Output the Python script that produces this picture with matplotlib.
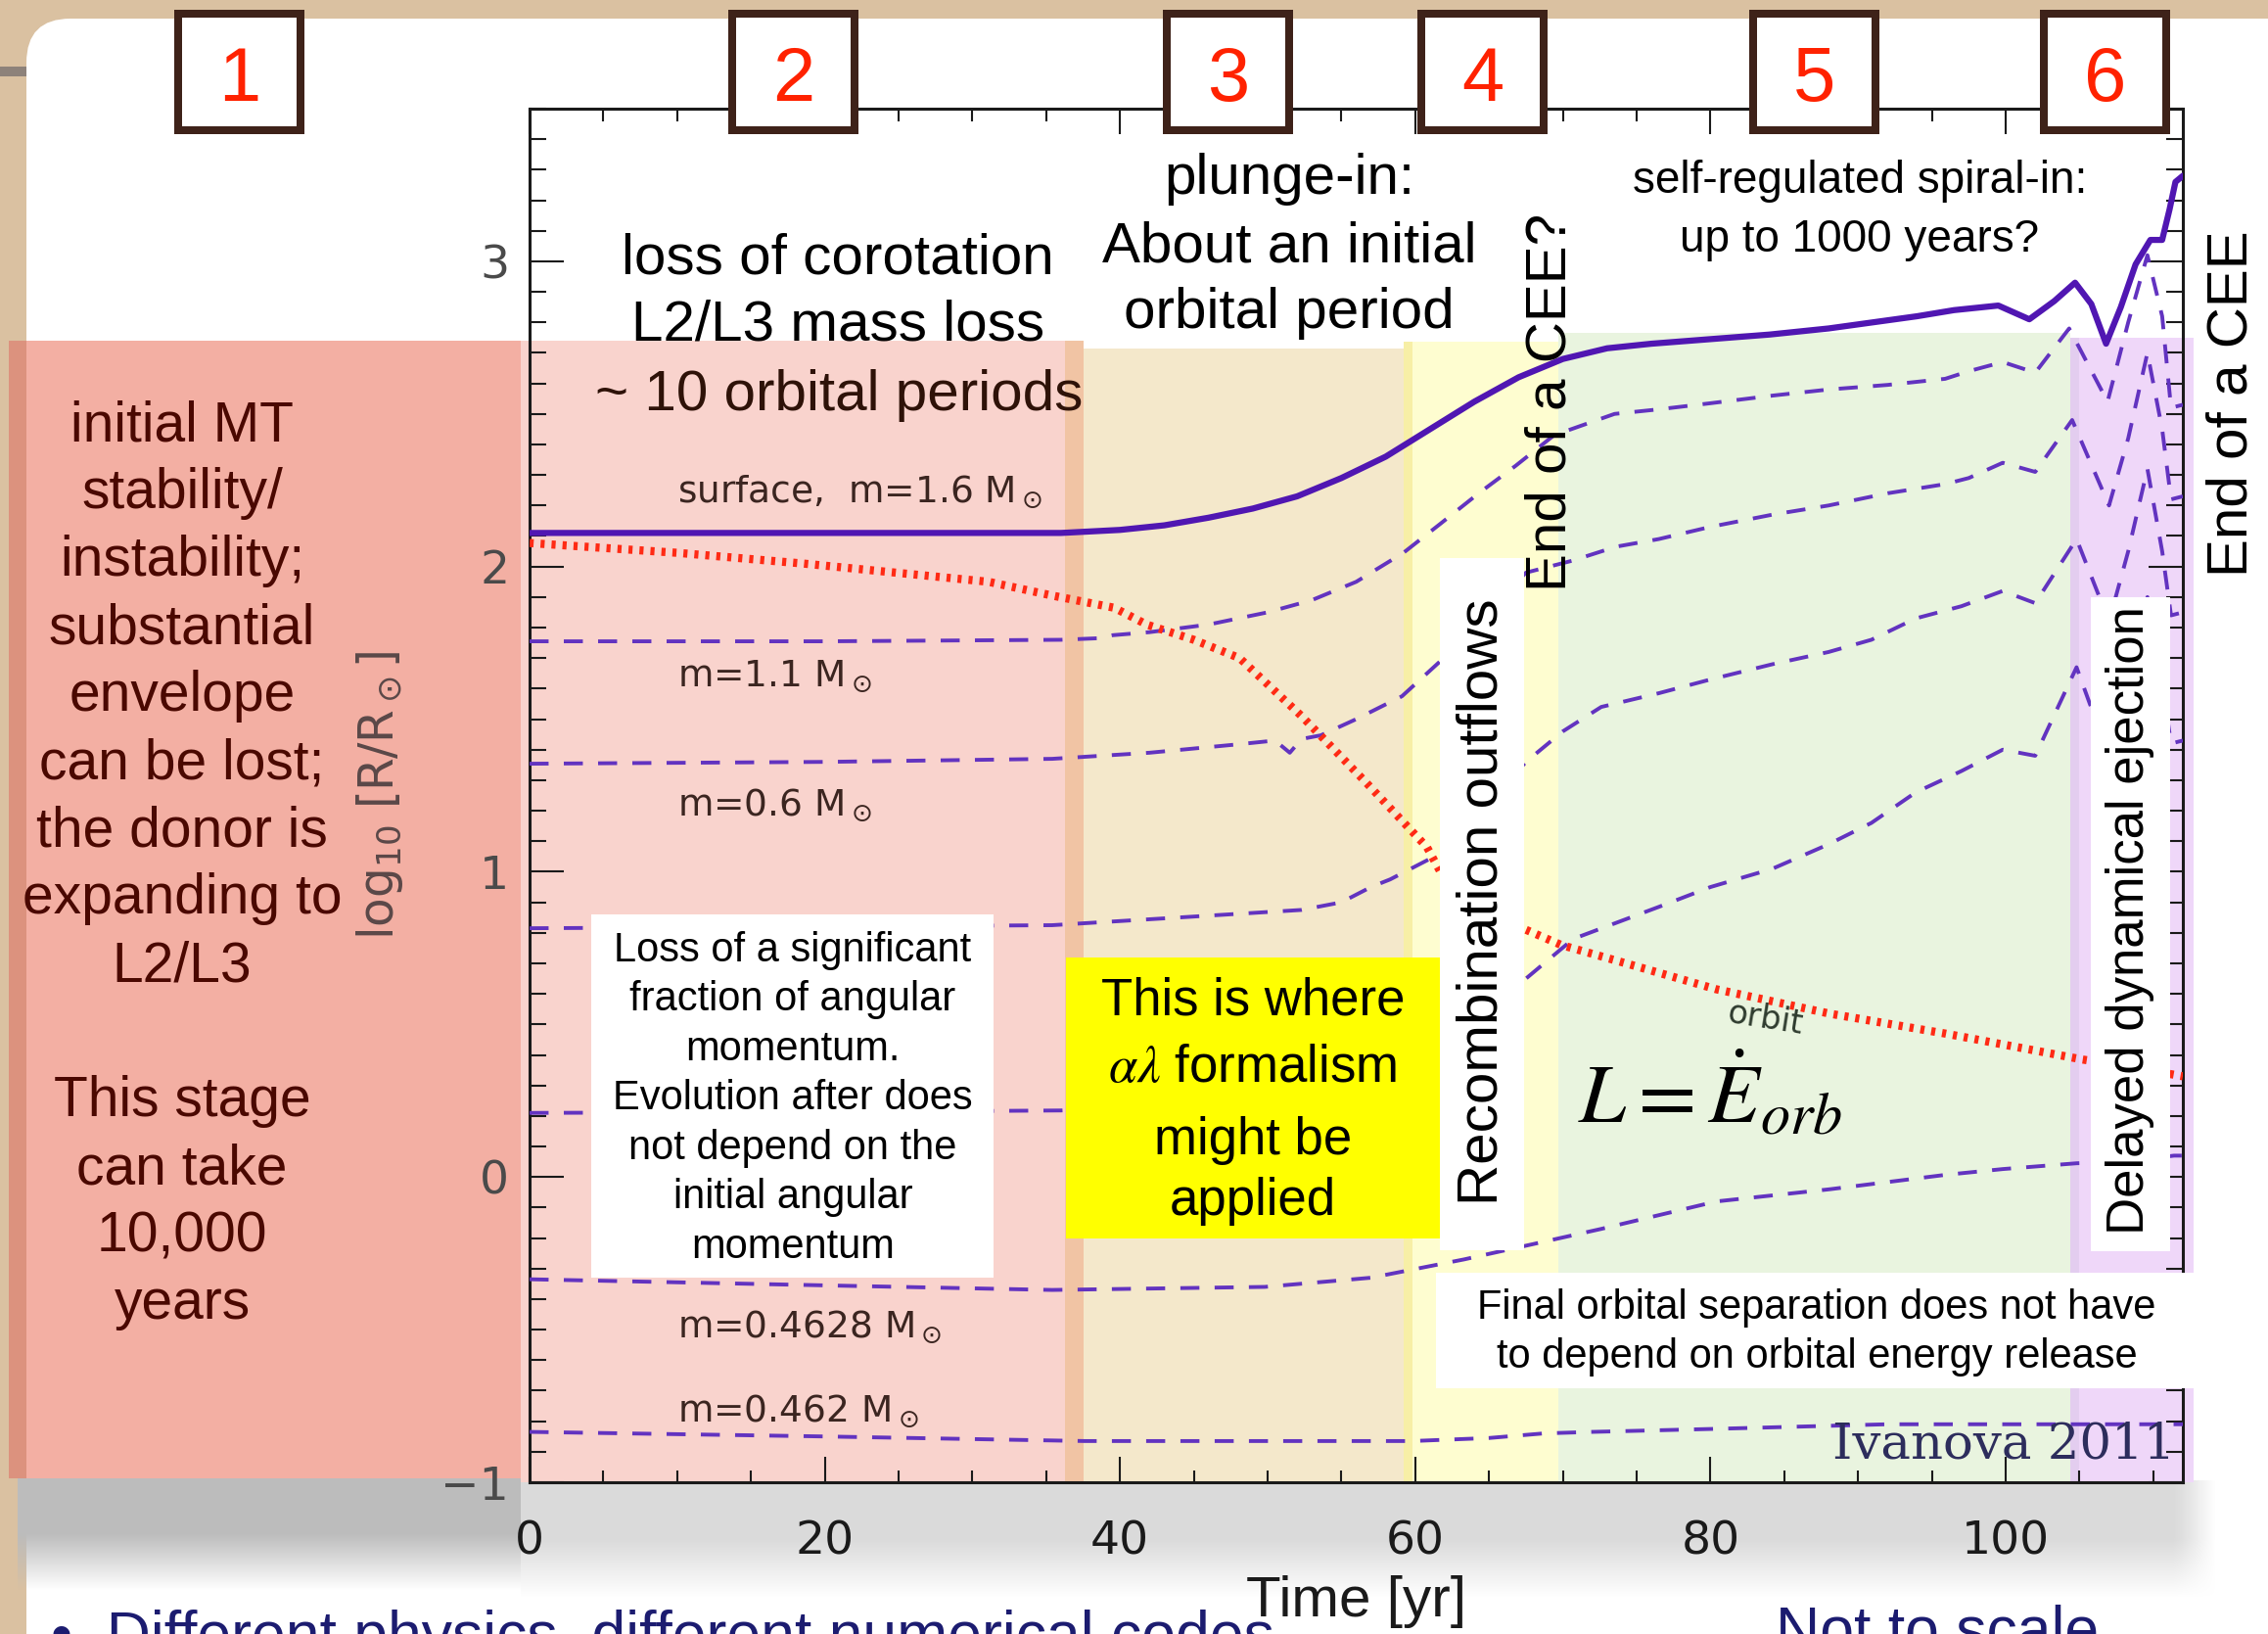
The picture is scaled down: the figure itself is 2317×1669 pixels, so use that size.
import numpy as np
import matplotlib
matplotlib.use("Agg")
import matplotlib.pyplot as plt
from matplotlib.patches import Rectangle, FancyBboxPatch

plt.rcParams['font.family'] = ['Liberation Sans', 'DejaVu Sans']
plt.rcParams['mathtext.fontset'] = 'dejavusans'

# ------------------------------------------------------------------ data
surface_t = [0, 10, 20, 30, 36, 40, 43, 46, 49, 52, 55, 58, 61, 64, 67, 70, 73, 76, 80, 84,
             88, 91, 94, 96.5, 99.5, 101.6, 103.3, 104.7, 105.8, 106.8, 107.8, 108.8, 109.8,
             110.6, 111.1, 111.5, 112]
surface_r = [2.11, 2.11, 2.11, 2.11, 2.11, 2.12, 2.135, 2.16, 2.19, 2.23, 2.29, 2.36, 2.45,
             2.54, 2.62, 2.68, 2.715, 2.73, 2.745, 2.76, 2.78, 2.80, 2.82, 2.84, 2.855, 2.81,
             2.87, 2.93, 2.86, 2.73, 2.85, 2.99, 3.07, 3.07, 3.17, 3.26, 3.28]

m11_t = [0, 20, 36, 38.5, 39.5, 42, 46, 50, 53, 56, 59.2, 61.7, 64.3, 66.8, 69.4, 73.5, 76.5,
         80, 84.2, 88, 92, 95.9, 97.5, 99.8, 102, 104.3, 106.9, 108.3, 109.6, 110.6, 111.2, 112]
m11_r = [1.755, 1.755, 1.76, 1.765, 1.775, 1.785, 1.81, 1.85, 1.89, 1.95, 2.045, 2.14, 2.24,
         2.33, 2.43, 2.50, 2.515, 2.535, 2.56, 2.58, 2.595, 2.615, 2.64, 2.67, 2.635, 2.78,
         2.54, 2.80, 3.02, 2.82, 2.52, 2.53]

m06_t = [0, 20, 35.4, 42, 48.1, 50.5, 51.5, 52.3, 53.6, 56, 59.1, 61.7, 64.5, 67.5, 70.7,
         73.6, 76.5, 80, 84.2, 88, 92, 95.9, 97.5, 99.8, 102, 104.5, 107, 108.3, 109.6, 110.6,
         111.2, 112]
m06_r = [1.354, 1.36, 1.37, 1.39, 1.418, 1.43, 1.39, 1.435, 1.447, 1.50, 1.575, 1.69, 1.83,
         1.98, 2.02, 2.065, 2.09, 2.13, 2.17, 2.20, 2.24, 2.27, 2.29, 2.34, 2.31, 2.48, 2.20,
         2.42, 2.70, 2.45, 2.22, 2.23]

m03_t = [0, 20, 35.4, 43.9, 52.3, 55, 57, 58.3, 61.7, 64.5, 67.5, 70, 72.6, 76.5, 80, 84.2,
         88, 90.9, 93.9, 97, 99.8, 102, 104.8, 107, 108.3, 109.6, 110.6, 111.2, 112]
m03_r = [0.815, 0.82, 0.825, 0.85, 0.875, 0.90, 0.95, 0.975, 1.06, 1.20, 1.36, 1.46, 1.54,
         1.585, 1.63, 1.68, 1.72, 1.76, 1.83, 1.87, 1.92, 1.88, 2.09, 1.82, 2.05, 2.32, 2.05,
         1.84, 1.85]

m02_t = [0, 20, 36, 45, 52, 57, 62, 65, 67.5, 70.7, 76.5, 80, 84.2, 88, 90.9, 93.9, 97, 99.8,
         102, 104.8, 105.7, 107, 108.3, 109.6, 110.6, 111.2, 112]
m02_r = [0.21, 0.213, 0.218, 0.24, 0.28, 0.34, 0.45, 0.56, 0.65, 0.78, 0.885, 0.95, 1.01,
         1.09, 1.16, 1.26, 1.33, 1.40, 1.38, 1.67, 1.55, 1.40, 1.62, 1.90, 1.62, 1.42, 1.43]

m04628_t = [0, 20, 35.4, 49.8, 57, 63.3, 67.5, 72.6, 80.4, 88.1, 95.9, 99.8, 104.8, 108, 111.4, 112]
m04628_r = [-0.335, -0.355, -0.37, -0.36, -0.33, -0.27, -0.225, -0.17, -0.08, -0.04, 0.007,
            0.026, 0.045, 0.05, 0.07, 0.07]

m0462_t = [0, 20, 37.6, 50, 59.8, 65, 68.7, 72, 80.4, 92, 103.7, 112]
m0462_r = [-0.835, -0.85, -0.865, -0.865, -0.865, -0.855, -0.84, -0.835, -0.825, -0.81, -0.81, -0.81]

orbit_t = [0, 10, 18.5, 26.9, 31.1, 35.4, 39.6, 41.8, 45, 48.1, 52.3, 56.6, 60.8, 61.7, 64.5,
           67.5, 69.9, 75, 80.4, 88.1, 95.9, 105.2, 108.5, 112]
orbit_r = [2.077, 2.045, 2.01, 1.97, 1.95, 1.905, 1.865, 1.81, 1.76, 1.70, 1.51, 1.296, 1.08,
           1.0, 0.88, 0.81, 0.76, 0.69, 0.615, 0.535, 0.47, 0.385, 0.36, 0.33]

dashed_series = [(m11_t, m11_r), (m06_t, m06_r), (m03_t, m03_r), (m02_t, m02_r),
                 (m04628_t, m04628_r), (m0462_t, m0462_r)]

# phase bands (time boundaries) and their upper edge
band_edges = [-0.6, 36.3, 37.5, 59.2, 59.8, 69.7, 104.4, 105.0, 112.7]
band_tops = [2.74, 2.74, 2.714, 2.736, 2.736, 2.765, 2.75, 2.75]
band_colors = ['#F9D3CD', '#F1C4A4', '#F4E8CB', '#F7EFA6', '#FEFDD0', '#E9F4DF', '#E3CDEF', '#EFD7F9']

x_major = [0, 20, 40, 60, 80, 100]
y_major = [-1, 0, 1, 2, 3]

mass_labels = [r'surface,  m=1.6 M$_\odot$', r'm=1.1 M$_\odot$', r'm=0.6 M$_\odot$',
               r'm=0.4628 M$_\odot$', r'm=0.462 M$_\odot$']
mass_label_y = [2.245, 1.64, 1.22, -0.49, -0.767]

phase_numbers = ['1', '2', '3', '4', '5', '6']

left_lines = ['initial MT', 'stability/', 'instability;', 'substantial', 'envelope',
              'can be lost;', 'the donor is', 'expanding to', 'L2/L3', '',
              'This stage', 'can take', '10,000', 'years']
loss_lines = ['Loss of a significant', 'fraction of angular', 'momentum.',
              'Evolution after does', 'not depend on the', 'initial angular', 'momentum']
yellow_lines = ['This is where', r'$\alpha\lambda$ formalism', 'might be', 'applied']
final_lines = ['Final orbital separation does not have', 'to depend on orbital energy release']

# ------------------------------------------------------------------ figure
W, H, DPI = 2317, 1669, 100
fig = plt.figure(figsize=(W / DPI, H / DPI), dpi=DPI, facecolor='#DAC1A1')

# background layer (pixel coordinates)
bg = fig.add_axes([0, 0, 1, 1], zorder=0)
bg.axis('off')
bg.add_patch(FancyBboxPatch((27, 19), W + 200, H + 200,
                            boxstyle='round,pad=0,rounding_size=45',
                            facecolor='white', edgecolor='none'))
bg.add_patch(Rectangle((0, 68), 27, 10, facecolor='#8d827a', edgecolor='none'))


def shade(x0, x1, y0, y1, gray, solid_frac=0.55, fade_right=0):
    ny, nx = 80, 200
    yy = np.linspace(0, 1, ny)[:, None]
    a = np.clip((1 - yy) / (1 - solid_frac), 0, 1) * np.ones((1, nx))
    if fade_right:
        xx = np.linspace(x0, x1, nx)[None, :]
        a = a * np.clip((x1 - xx) / fade_right, 0, 1)
    img = np.zeros((ny, nx, 4))
    img[..., :3] = gray
    img[..., 3] = a
    bg.imshow(img, extent=[x0, x1, y1, y0], aspect='auto', interpolation='bilinear', zorder=1)


shade(18, 532, 1510, 1625, 0.74, solid_frac=0.5)
shade(532, 2268, 1513, 1632, 0.855, solid_frac=0.5, fade_right=40)

# salmon panel of phase 1
bg.add_patch(Rectangle((9, 348), 523, 1162, facecolor='#F3AFA3', edgecolor='none', zorder=2))
bg.add_patch(Rectangle((9, 348), 18, 1162, facecolor='#DC927E', edgecolor='none', zorder=2))
for i, line in enumerate(left_lines):
    bg.text(186, 450 + 69 * i, line, fontsize=41, color='#4a0800', ha='center', va='baseline', zorder=3)

bg.text(52, 1690, u'\u2022  Different physics, different numerical codes', fontsize=45,
        color='#1c1c70', ha='left', va='baseline', zorder=3)
bg.text(1814, 1684, 'Not to scale', fontsize=45, color='#1c1c70', ha='left', va='baseline', zorder=3)
bg.set_xlim(0, W)
bg.set_ylim(H, 0)

# ------------------------------------------------------------------ main plot
ax = fig.add_axes([541 / W, 1 - 1514 / H, 1689 / W, 1403 / H], zorder=2)
ax.set_facecolor('white')
ax.set_xlim(0, 112)
ax.set_ylim(-1, 3.5)

for i in range(len(band_colors)):
    ax.add_patch(Rectangle((band_edges[i], -1), band_edges[i + 1] - band_edges[i], band_tops[i] + 1,
                           facecolor=band_colors[i], edgecolor='none', zorder=0.5, clip_on=False))

for t, r in dashed_series:
    ax.plot(t, r, color='#6233C0', lw=2.8, dashes=(5, 4), zorder=2.6)
ax.plot(orbit_t, orbit_r, color='#FF2A14', lw=6, dashes=(0.5, 0.85), dash_capstyle='butt', zorder=2.8)
ax.plot(surface_t, surface_r, color='#5016B2', lw=4.5, solid_capstyle='round', zorder=3)

for lab, yv in zip(mass_labels, mass_label_y):
    ax.text(10.0, yv, lab, fontsize=27, color='#3b2520', family='DejaVu Sans',
            ha='left', va='center', zorder=4)
ax.text(83.7, 0.518, 'orbit', rotation=-9, fontsize=24, color='#2e3b2e', family='DejaVu Sans',
        ha='center', va='center', rotation_mode='anchor', zorder=4)

ax.set_xticks(x_major)
ax.set_xticks(np.arange(0, 112.1, 5), minor=True)
ax.set_yticks(y_major)
ax.set_yticks(np.arange(-1, 3.51, 0.1), minor=True)
ax.tick_params(which='both', direction='in', top=True, right=True, width=1.5, color='#1a1a1a')
ax.tick_params(axis='x', which='major', length=19, pad=28, labelsize=34, labelcolor='#1a1a1a',
               labelfontfamily='DejaVu Sans')
ax.tick_params(axis='x', which='minor', length=9)
ax.tick_params(axis='y', which='major', length=25, pad=15, labelsize=34, labelcolor='#4a4a4a',
               labelfontfamily='DejaVu Sans')
ax.tick_params(axis='y', which='minor', length=12)
for s in ax.spines.values():
    s.set_linewidth(2.2)
    s.set_color('#1a1a1a')

ax.set_ylabel(r'log$_{10}$ [R/R$_\odot$]', fontsize=35, color='#5a4848', family='DejaVu Sans')
ax.yaxis.set_label_coords(-0.0906, 0.5)
ax.yaxis.label.set_verticalalignment('center')
ax.set_xlabel('Time [yr]', fontsize=42, color='#1a1a1a')
ax.xaxis.set_label_coords(0.5, -0.0677)

# ------------------------------------------------------------------ overlay annotations
ov = fig.add_axes([0, 0, 1, 1], zorder=5)
ov.axis('off')
ov.set_xlim(0, W)
ov.set_ylim(H, 0)


def rect(x0, y0, x1, y1, color):
    ov.add_patch(Rectangle((x0, y0), x1 - x0, y1 - y0, facecolor=color, edgecolor='none', zorder=1))


# numbered phase boxes
box_x = [178, 744, 1188, 1448, 1787, 2084]
for bx, num in zip(box_x, phase_numbers):
    rect(bx, 10, bx + 133, 137, '#3E2219')
    rect(bx + 8, 18, bx + 125, 129, 'white')
    ov.text(bx + 66.5, 103, num, fontsize=56, color='#FF2200', ha='center', va='baseline', zorder=3)

# top texts
top_texts = [('loss of corotation', 856, 280, 42, 'black'),
             ('L2/L3 mass loss', 856, 348, 42, 'black'),
             ('~ 10 orbital periods', 857, 419, 42, '#2e1208'),
             ('plunge-in:', 1317, 198, 42, 'black'),
             ('About an initial', 1317, 267, 42, 'black'),
             ('orbital period', 1317, 335, 42, 'black'),
             ('self-regulated spiral-in:', 1900, 197, 33, 'black'),
             ('up to 1000 years?', 1900, 257, 33, 'black')]
for s, x, y, fs, c in top_texts:
    ov.text(x, y, s, fontsize=fs, color=c, ha='center', va='baseline', zorder=3)

# boxes with text
rect(604, 934, 1015, 1305, 'white')
for s, yb in zip(loss_lines, [982, 1032, 1083, 1133, 1184, 1234, 1285]):
    ov.text(810, yb, s, fontsize=30, color='black', ha='center', va='baseline', zorder=3)

rect(1089, 978, 1471, 1265, '#FFFF00')
for s, yb in zip(yellow_lines, [1036, 1105, 1179, 1241]):
    ov.text(1280, yb, s, fontsize=38, color='black', ha='center', va='baseline', zorder=3,
            math_fontfamily='stix')

rect(1471, 570, 1557, 1277, 'white')
ov.text(1514, 921, 'Recombination outflows', fontsize=42, rotation=90, ha='center', va='center', zorder=3)

rect(2136, 610, 2217, 1278, 'white')
ov.text(2176, 940, 'Delayed dynamical ejection', fontsize=38, rotation=90, ha='center', va='center', zorder=3)

rect(1467, 1300, 2242, 1418, 'white')
for s, yb in zip(final_lines, [1347, 1397]):
    ov.text(1856, yb, s, fontsize=30, color='black', ha='center', va='baseline', zorder=3)

ov.text(1584, 411, 'End of a CEE?', fontsize=42, rotation=90, ha='center', va='center', zorder=3)
ov.text(2281, 412, 'End of a CEE', fontsize=42, rotation=90, ha='center', va='center', zorder=3)

ov.text(1612, 1147, r'$L = \dot{E}_{orb}$', fontsize=62, ha='left', va='baseline',
        math_fontfamily='stix', zorder=3)
ov.text(2222, 1489, 'Ivanova 2011', fontsize=37, family='DejaVu Serif', color='#2d2d5c',
        ha='right', va='baseline', zorder=3)

fig.savefig('out.png', dpi=DPI)
